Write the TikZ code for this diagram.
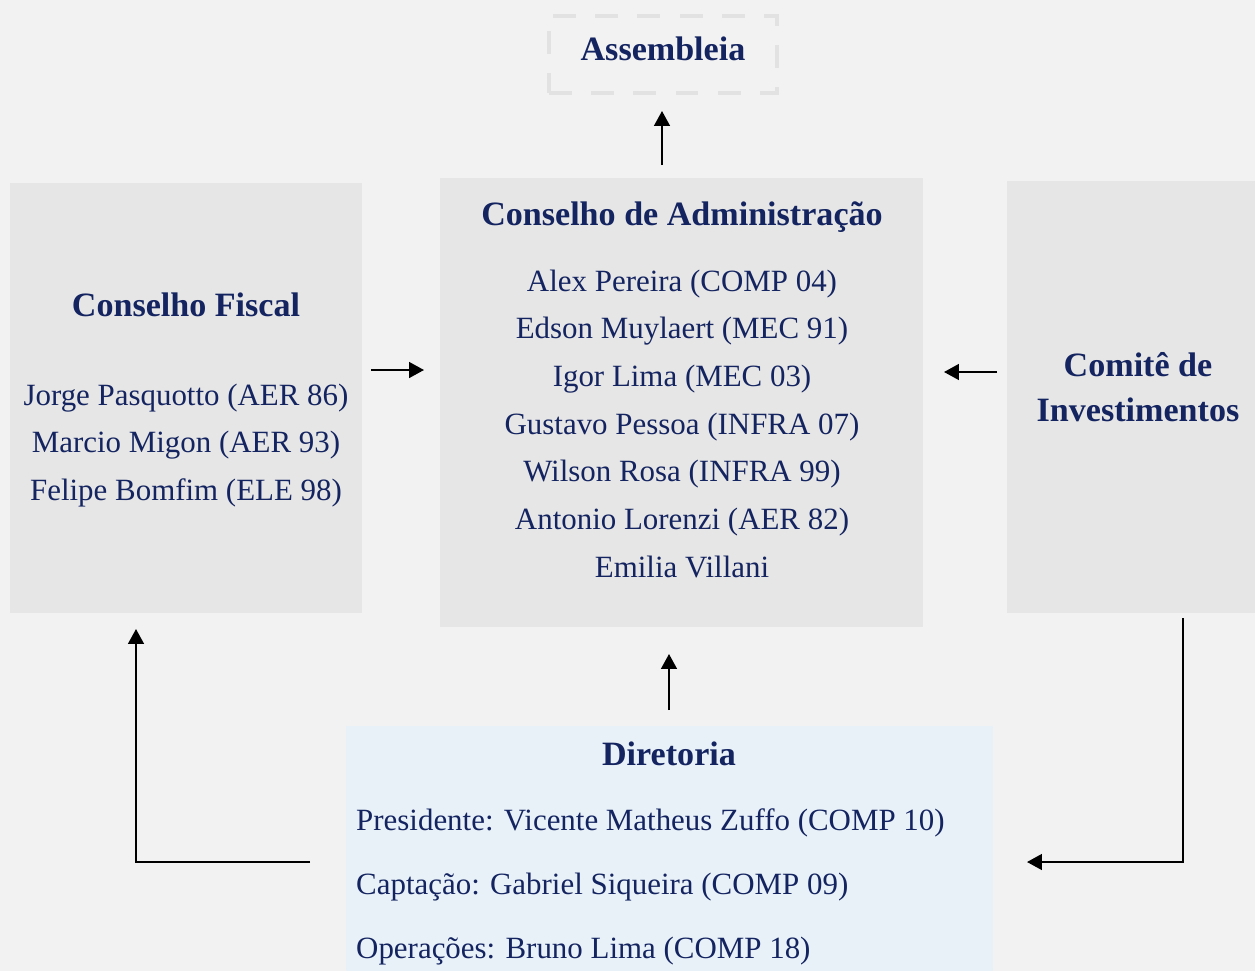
\documentclass[tikz,border=0pt]{standalone}
\usepackage{fontspec}
\setmainfont{Liberation Serif}
\usetikzlibrary{arrows.meta}

\definecolor{fundo}{RGB}{242,242,242}
\definecolor{cinzacaixa}{RGB}{230,230,230}
\definecolor{azulcaixa}{RGB}{232,241,248}
\definecolor{azultexto}{RGB}{20,36,96}
\definecolor{tracejado}{RGB}{226,226,226}

\tikzset{
  caixa/.style={fill=cinzacaixa, inner sep=0pt},
  titulo/.style={text=azultexto, font=\fontsize{19.4}{22}\selectfont\bfseries},
  nome/.style={text=azultexto, font=\fontsize{17.6}{20}\selectfont, text height=0.69em, text depth=0.22em},
  seta/.style={line width=1.1pt, -{Triangle[length=8.5pt,width=9pt]}}
}

\begin{document}
\begin{tikzpicture}[x=0.02cm,y=-0.02cm]
	\useasboundingbox (0,0) rectangle (1255,971);
	\fill[fundo] (0,0) rectangle (1255,971);

	% caixas
	\node[caixa, minimum width=483*0.02cm, minimum height=449*0.02cm] (admin) at (681.5,402.5) {};
	\node[caixa, minimum width=352*0.02cm, minimum height=430*0.02cm] (fiscal) at (186,398) {};
	\node[caixa, minimum width=248*0.02cm, minimum height=432*0.02cm] (comite) at (1131,397) {};
	\node[caixa, fill=azulcaixa, minimum width=647*0.02cm, minimum height=245*0.02cm] (diretoria) at (669.5,848.5) {};
	\node[draw=tracejado, line width=2.2pt, dash pattern=on 13pt off 11pt,
	      minimum width=228*0.02cm, minimum height=77*0.02cm] (assembleia) at (663,54.5) {};

	% textos
	\node[titulo] (tassembleia) at (663,49) {Assembleia};
	\node[titulo] (tadmin) at (682,217) {Conselho de Administração};
	\foreach \nm [count=\i] in {Alex Pereira (COMP 04),Edson Muylaert (MEC 91),Igor Lima (MEC 03),
	    Gustavo Pessoa (INFRA 07),Wilson Rosa (INFRA 99),Antonio Lorenzi (AER 82),Emilia Villani}
	  \node[nome] (adm\i) at (682,{287+(\i-1)*47.7}) {\nm};

	\node[titulo] (tfiscal) at (186,305) {Conselho Fiscal};
	\foreach \nm [count=\i] in {Jorge Pasquotto (AER 86),Marcio Migon (AER 93),Felipe Bomfim (ELE 98)}
	  \node[nome] (fis\i) at (186,{401+(\i-1)*47.5}) {\nm};

	\node[titulo, align=center] (tcomite) at (1138,387) {Comitê de\\[4pt]Investimentos};

	\node[titulo] (tdiretoria) at (669,754) {Diretoria};
	\node[nome, anchor=west] (dir1) at (350,826) {Presidente: Vicente Matheus Zuffo (COMP 10)};
	\node[nome, anchor=west] (dir2) at (350,890) {Captação: Gabriel Siqueira (COMP 09)};
	\node[nome, anchor=west] (dir3) at (350,954) {Operações: Bruno Lima (COMP 18)};

	% setas
	\coordinate (c1) at (662,165);
	\coordinate (c2) at (662,111);
	\coordinate (c3) at (371,370);
	\coordinate (c4) at (424,370);
	\coordinate (c5) at (997,372);
	\coordinate (c6) at (944,372);
	\coordinate (c7) at (669,710);
	\coordinate (c8) at (669,654);
	\coordinate (c9) at (310,862);
	\coordinate (c10) at (136,629);
	\coordinate (c11) at (1183,618);
	\coordinate (c12) at (1027,862);
	\draw[seta] (c1) -- (c2);
	\draw[seta] (c3) -- (c4);
	\draw[seta] (c5) -- (c6);
	\draw[seta] (c7) -- (c8);
	\draw[seta] (c9) -| (c10);
	\draw[seta] (c11) |- (c12);
\end{tikzpicture}
\end{document}
